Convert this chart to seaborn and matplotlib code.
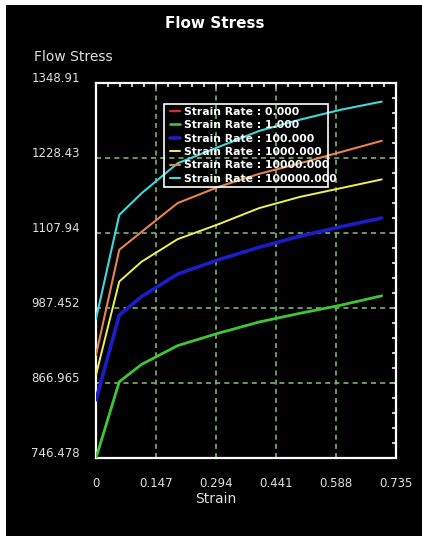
import matplotlib
matplotlib.use("Agg")
import matplotlib.pyplot as plt
import matplotlib.transforms as mtransforms
from matplotlib.patches import Rectangle
from matplotlib.ticker import AutoMinorLocator
import numpy as np
import pandas as pd
import seaborn as sns

# Strain sample points shared by all curves
strain = [0.0, 0.057, 0.112, 0.2, 0.3, 0.4, 0.5, 0.6, 0.7]

# Flow stress per strain rate
stress_rate_0 = [746.478, 869, 897, 927, 947, 965, 979, 992, 1007]
stress_rate_1 = [746.478, 869, 897, 927, 947, 965, 979, 992, 1007]
stress_rate_100 = [840, 976, 1006, 1042, 1065, 1085, 1103, 1118, 1132]
stress_rate_1000 = [880, 1030, 1062, 1098, 1122, 1148, 1166, 1180, 1194]
stress_rate_10000 = [912, 1081, 1110, 1156, 1182, 1203, 1220, 1238, 1256]
stress_rate_100000 = [970, 1137, 1172, 1220, 1246, 1272, 1290, 1306, 1319]

series_names = [
    "Strain Rate : 0.000",
    "Strain Rate : 1.000",
    "Strain Rate : 100.000",
    "Strain Rate : 1000.000",
    "Strain Rate : 10000.000",
    "Strain Rate : 100000.000",
]
series_values = [stress_rate_0, stress_rate_1, stress_rate_100,
                 stress_rate_1000, stress_rate_10000, stress_rate_100000]
series_colors = ["#d03030", "#33cc33", "#1c1cc8", "#f0f050", "#e8834a", "#40d8d8"]
series_widths = [1.6, 1.9, 2.6, 1.4, 1.5, 1.5]

x_tick_labels = ["0", "0.147", "0.294", "0.441", "0.588", "0.735"]
y_tick_labels = ["746.478", "866.965", "987.452", "1107.94", "1228.43", "1348.91"]

df = pd.DataFrame({
    "Strain": np.tile(strain, len(series_names)),
    "Flow Stress": np.concatenate(series_values),
    "Rate": np.repeat(series_names, len(strain)),
})

sns.set_style("dark")
plt.rcParams["font.family"] = ["DejaVu Sans"]

W, H = 422, 536
fig = plt.figure(figsize=(W / 100, H / 100), dpi=100)
fig.patch.set_facecolor("white")
fig.add_artist(Rectangle((6 / W, -0.02), 1.02 - 6 / W, 1.02 - 5 / H,
                         transform=fig.transFigure, facecolor="black",
                         edgecolor="none", zorder=-10))

ax = fig.add_axes([96 / W, 1 - 458 / H, 300 / W, 375 / H])
ax.set_facecolor("black")

sns.lineplot(data=df, x="Strain", y="Flow Stress", hue="Rate",
             hue_order=series_names, palette=series_colors,
             sort=False, errorbar=None, legend=False, ax=ax, zorder=3)

for line, name, lw in zip(ax.lines, series_names, series_widths):
    line.set_linewidth(lw)
    line.set_label(name)

xt = [float(v) for v in x_tick_labels]
yt = [float(v) for v in y_tick_labels]
ax.set_xlim(xt[0], xt[-1])
ax.set_ylim(yt[0], yt[-1])
ax.set_xticks(xt)
ax.set_xticklabels(x_tick_labels)
ax.set_yticks(yt)
ax.set_yticklabels(y_tick_labels)
ax.xaxis.set_minor_locator(AutoMinorLocator(5))
ax.yaxis.set_minor_locator(AutoMinorLocator(5))

ax.tick_params(which="both", direction="in", top=True, right=True,
               color="white", width=1.1)
ax.tick_params(which="major", length=4)
ax.tick_params(which="minor", length=3)
ax.tick_params(axis="x", which="major", pad=13.5, labelsize=8.5,
               labelcolor="#e0e0e0")
ax.tick_params(axis="y", which="major", pad=11.5, labelsize=8.5,
               labelcolor="#e0e0e0")

# lift the value labels slightly above their tick positions
lift = mtransforms.ScaledTranslation(0, 6 / 100, fig.dpi_scale_trans)
for lab in ax.get_yticklabels():
    lab.set_transform(lab.get_transform() + lift)

ax.set_xlabel("")
ax.set_ylabel("")

for sp in ax.spines.values():
    sp.set_visible(True)
    sp.set_color("white")
    sp.set_linewidth(1.6)

# dashed grid at the interior major ticks
for v in xt[1:-1]:
    ax.axvline(v, color="#80b070", lw=1.2, ls=(0, (3, 2.5)), zorder=2)
for v in yt[1:-1]:
    ax.axhline(v, color="#80b070", lw=1.2, ls=(0, (3, 2.5)), zorder=2)
ax.grid(False)

leg = ax.legend(handles=ax.lines[:6], loc="upper left",
                bbox_to_anchor=(0.2467, 0.937), borderaxespad=0,
                borderpad=0, frameon=False, handlelength=0.9,
                handletextpad=0.35, labelspacing=0.32,
                prop={"family": "DejaVu Sans", "weight": "bold", "size": 7.8})
for t in leg.get_texts():
    t.set_color("white")
leg.set_zorder(5)
ax.add_patch(Rectangle((0.2267, 0.7219), 0.5457, 0.2221, transform=ax.transAxes,
                       facecolor="none", edgecolor="white", lw=1.2, zorder=4))

fig.text(215 / W, 1 - 24 / H, "Flow Stress", color="white", fontsize=11,
         fontweight="bold", ha="center", va="center")
fig.text(34 / W, 1 - 57 / H, "Flow Stress", color="#e0e0e0", fontsize=10,
         ha="left", va="center")
fig.text(216 / W, 1 - 499 / H, "Strain", color="#e0e0e0", fontsize=10,
         ha="center", va="center")

fig.savefig("out.png", dpi=100, facecolor=fig.get_facecolor())
